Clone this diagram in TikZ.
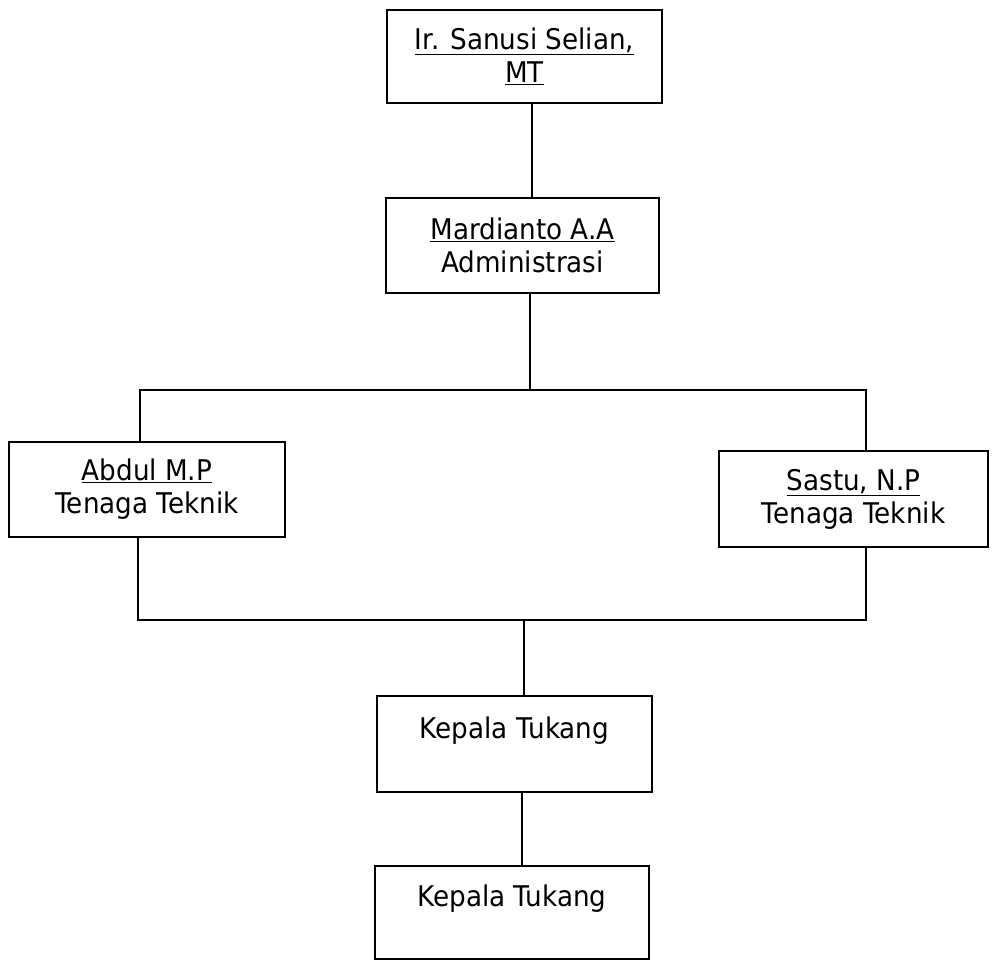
\documentclass[tikz,border=0pt]{standalone}
\usepackage{fontspec}
\setmainfont[FakeStretch=0.92]{DejaVu Sans}
\newcommand{\myul}[1]{\underline{#1}}
\begin{document}
\begin{tikzpicture}[x=1pt,y=-1pt,
  orgbox/.style={draw=black,line width=1.8pt,rectangle,inner sep=0pt,align=center,
    font=\fontsize{28.5}{33}\selectfont},
  link/.style={draw=black,line width=1.8pt}]
\useasboundingbox (0,0) rectangle (992,961);
\fill[white] (0,0) rectangle (992,961);

\node[orgbox,minimum width=275pt,minimum height=93pt] (b1) at (524.5,56.5)
  {\myul{Ir. Sanusi Selian,}\\\myul{MT}};
\node[orgbox,minimum width=273pt,minimum height=95pt] (b2) at (522.5,245.5)
  {\myul{Mardianto A.A}\\Administrasi};
\node[orgbox,minimum width=276pt,minimum height=95pt] (abdul) at (147,489.5)
  {\myul{Abdul M.P}\\Tenaga Teknik};
\node[orgbox,minimum width=269pt,minimum height=96pt] (sastu) at (853.5,499)
  {\myul{Sastu, N.P}\\Tenaga Teknik};
\node[orgbox,minimum width=275pt,minimum height=96pt] (k1) at (514.5,744)
  {Kepala Tukang\\\mbox{}};
\node[orgbox,minimum width=274pt,minimum height=93pt] (k2) at (512,912.5)
  {Kepala Tukang\\\mbox{}};

\coordinate (c1) at (532,0);
\coordinate (c2) at (530,0);
\coordinate (c3) at (524,0);
\coordinate (c4) at (522,0);
\coordinate (tl) at (140,390);
\coordinate (tr) at (866,390);
\coordinate (bl) at (138,620);
\coordinate (br) at (866,620);

\draw[link] (b1.south -| c1) -- (b2.north -| c1);
\draw[link] (b2.south -| c2) -- (tl -| c2);
\draw[link] (abdul.north -| tl) -- (tl) -- (tr) -- (sastu.north -| tr);
\draw[link] (abdul.south -| bl) -- (bl) -- (br) -- (sastu.south -| br);
\draw[link] (bl -| c3) -- (k1.north -| c3);
\draw[link] (k1.south -| c4) -- (k2.north -| c4);
\end{tikzpicture}
\end{document}
